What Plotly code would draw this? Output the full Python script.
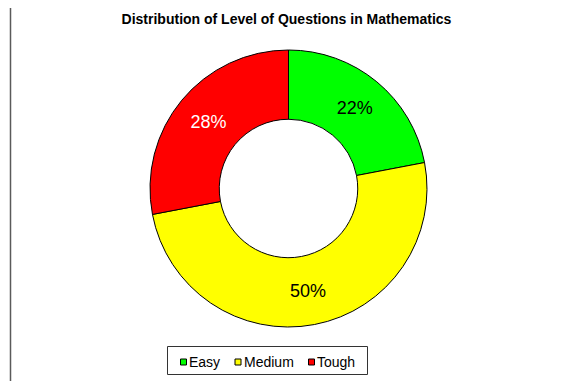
import plotly.graph_objs as go

# Datos del gráfico
niveles = ['Easy', 'Medium', 'Tough']
porcentajes = [22, 50, 28]
colores = ['#00ff00', '#ffff00', '#ff0000']
colores_texto = ['black', 'black', 'white']

ANCHO, ALTO = 565, 381
# la página deja 8px de margen alrededor de la figura
DESP = 8
FUENTE = 'Arial, Liberation Sans, sans-serif'


def px_x(x):
    return (x - DESP) / ANCHO


def px_y(y):
    return 1 - (y - DESP) / ALTO


# Crear el gráfico de dona
grafico = go.Pie(labels=niveles,
                 values=porcentajes,
                 hole=0.5,
                 sort=False,
                 direction='clockwise',
                 rotation=0,
                 showlegend=False,
                 marker=dict(colors=colores, line=dict(color='black', width=1)),
                 texttemplate='%{percent:.0%}',
                 textposition='inside',
                 insidetextorientation='horizontal',
                 insidetextfont=dict(family=FUENTE, size=18, color=colores_texto),
                 hoverinfo='label+percent',
                 domain=dict(x=[px_x(149.5), px_x(427.5)],
                             y=[px_y(327), px_y(50)]))

# Marco del área del gráfico
formas = [
    dict(type='rect', xref='paper', yref='paper',
         x0=px_x(10.5), x1=px_x(620), y0=px_y(440), y1=px_y(4.5),
         fillcolor='white', line=dict(color='#5a5a5a', width=1.5), layer='below'),
    # caja de la leyenda
    dict(type='rect', xref='paper', yref='paper',
         x0=px_x(167.5), x1=px_x(367.5), y0=px_y(374.5), y1=px_y(346.5),
         fillcolor='white', line=dict(color='#333333', width=1), layer='below'),
]

# Leyenda hecha a mano (cuadritos pequeños como en el original)
leyenda_x = [180, 234.5, 308]
leyenda_y = 362
anotaciones = []
for nombre, color, x in zip(niveles, colores, leyenda_x):
    formas.append(dict(type='rect', xref='paper', yref='paper',
                       x0=px_x(x + 0.5), x1=px_x(x + 6.5),
                       y0=px_y(leyenda_y + 3), y1=px_y(leyenda_y - 3),
                       fillcolor=color, line=dict(color='black', width=1)))
    anotaciones.append(dict(text=nombre, xref='paper', yref='paper',
                            x=px_x(x + 7), y=px_y(leyenda_y),
                            xanchor='left', yanchor='middle', showarrow=False,
                            font=dict(family=FUENTE, size=14, color='black')))

# Configurar el diseño del gráfico
layout = go.Layout(title=dict(text='Distribution of Level of Questions in Mathematics',
                              x=px_x(286.5), y=px_y(19),
                              xanchor='center', yanchor='middle',
                              font=dict(family=FUENTE, size=14,
                                        color='black', weight='bold')),
                   width=ANCHO, height=ALTO,
                   margin=dict(l=0, r=0, t=0, b=0),
                   paper_bgcolor='white',
                   shapes=formas,
                   annotations=anotaciones,
                   showlegend=False)

# Crear la figura
figura = go.Figure(data=[grafico], layout=layout)
figura.write_html('out.html')
